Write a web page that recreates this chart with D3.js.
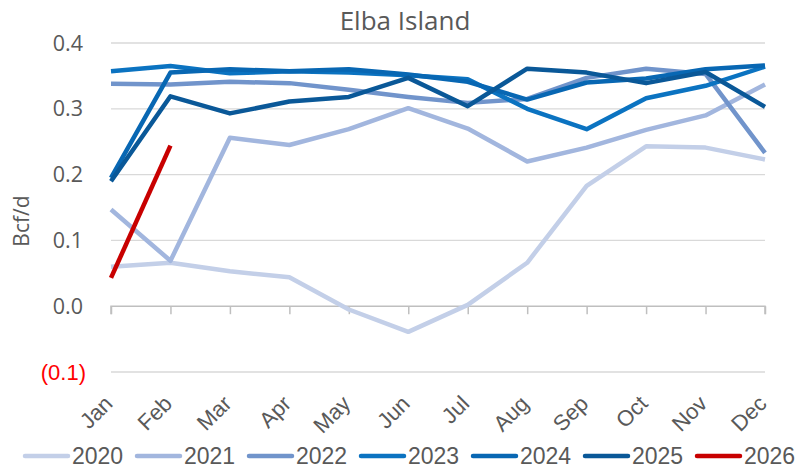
<!DOCTYPE html>
<html>
<head>
<meta charset="utf-8">
<script src="https://cdn.jsdelivr.net/npm/d3@7"></script>
<style>
  body { margin: 0; background: #fff; }
  svg { display: block; }
</style>
</head>
<body>
<svg id="chart" width="799" height="473"></svg>
<script>
const months = ['Jan', 'Feb', 'Mar', 'Apr', 'May', 'Jun', 'Jul', 'Aug', 'Sep', 'Oct', 'Nov', 'Dec'];
const years = ['2020', '2021', '2022', '2023', '2024', '2025', '2026'];
const yTicks = [-0.1, 0.0, 0.1, 0.2, 0.3, 0.4];

const v2020 = [0.060, 0.066, 0.053, 0.044, -0.005, -0.039, 0.002, 0.066, 0.183, 0.243, 0.241, 0.223];
const v2021 = [0.147, 0.069, 0.256, 0.245, 0.269, 0.301, 0.270, 0.220, 0.241, 0.268, 0.290, 0.337];
const v2022 = [0.338, 0.337, 0.341, 0.339, 0.329, 0.318, 0.309, 0.315, 0.347, 0.361, 0.353, 0.233];
const v2023 = [0.357, 0.365, 0.354, 0.357, 0.355, 0.351, 0.345, 0.300, 0.269, 0.316, 0.335, 0.364];
const v2024 = [0.195, 0.355, 0.360, 0.357, 0.360, 0.352, 0.341, 0.314, 0.340, 0.346, 0.360, 0.366];
const v2025 = [0.190, 0.319, 0.293, 0.311, 0.318, 0.347, 0.304, 0.361, 0.355, 0.339, 0.356, 0.303];
const v2026 = [0.043, 0.244];

const seriesValues = [v2020, v2021, v2022, v2023, v2024, v2025, v2026];
const colors = ['#c3cfe8', '#a2b6de', '#7194cb', '#0b73c1', '#0867b3', '#0a5898', '#c80000'];

const svg = d3.select('#chart');
const textColor = '#595959';

const x = d3.scalePoint().domain(months).range([111, 765]);
const y = d3.scaleLinear().domain([-0.1, 0.4]).range([372, 43]);

// title
svg.append('text')
  .attr('x', 405)
  .attr('y', 30)
  .attr('text-anchor', 'middle')
  .attr('font-family', 'Open Sans')
  .attr('font-size', 26)
  .attr('fill', textColor)
  .text('Elba Island');

// gridlines
svg.append('g')
  .selectAll('line')
  .data(yTicks.filter(d => d !== 0))
  .enter()
  .append('line')
  .attr('x1', 111)
  .attr('x2', 765)
  .attr('y1', d => y(d))
  .attr('y2', d => y(d))
  .attr('stroke', '#d9d9d9')
  .attr('stroke-width', 1.3);

// y tick labels
svg.append('g')
  .selectAll('text')
  .data(yTicks)
  .enter()
  .append('text')
  .attr('x', d => (d < 0 ? 86 : 83))
  .attr('y', d => y(d))
  .attr('dy', '0.35em')
  .attr('text-anchor', 'end')
  .attr('font-family', d => (d < 0 ? 'Liberation Sans' : 'Open Sans'))
  .attr('font-size', d => (d < 0 ? 22 : 21.5))
  .attr('fill', d => (d < 0 ? '#ff0000' : textColor))
  .text(d => (d < 0 ? '(' + d3.format('.1f')(-d) + ')' : d3.format('.1f')(d)));

// y axis title
svg.append('text')
  .attr('transform', 'translate(29, 221) rotate(-90)')
  .attr('text-anchor', 'middle')
  .attr('font-family', 'Open Sans')
  .attr('font-size', 21)
  .attr('fill', textColor)
  .text('Bcf/d');

// x axis at zero with ticks
const xAxis = d3.axisBottom(x).tickSize(8).tickFormat('');
const xg = svg.append('g')
  .attr('transform', `translate(0, ${y(0)})`)
  .call(xAxis);
xg.select('.domain').attr('stroke', '#bfbfbf').attr('stroke-width', 1.5)
  .attr('d', `M111,8V0H765V8`);
xg.selectAll('.tick line').attr('stroke', '#bfbfbf').attr('stroke-width', 1.5);

// month labels at the bottom
svg.append('g')
  .selectAll('text')
  .data(months)
  .enter()
  .append('text')
  .attr('transform', d => `translate(${x(d) + 3}, 405) rotate(-45)`)
  .attr('text-anchor', 'end')
  .attr('font-family', 'Liberation Sans')
  .attr('font-size', 22)
  .attr('fill', textColor)
  .text(d => d);

// lines
const line = d3.line()
  .x((d, i) => x(months[i]))
  .y(d => y(d));

svg.append('g')
  .selectAll('path')
  .data(seriesValues)
  .enter()
  .append('path')
  .attr('d', d => line(d))
  .attr('fill', 'none')
  .attr('stroke', (d, i) => colors[i])
  .attr('stroke-width', 4.5)
  .attr('stroke-linejoin', 'round');

// legend
const legend = svg.append('g')
  .selectAll('g')
  .data(years)
  .enter()
  .append('g')
  .attr('transform', (d, i) => `translate(${25 + i * 112}, 456)`);
legend.append('line')
  .attr('x1', 0)
  .attr('x2', 43)
  .attr('stroke', (d, i) => colors[i])
  .attr('stroke-width', 4.5)
  .attr('stroke-linecap', 'round');
legend.append('text')
  .attr('x', 47)
  .attr('y', 8)
  .attr('font-family', 'Liberation Sans')
  .attr('font-size', 23)
  .attr('fill', textColor)
  .text(d => d);
</script>
</body>
</html>
